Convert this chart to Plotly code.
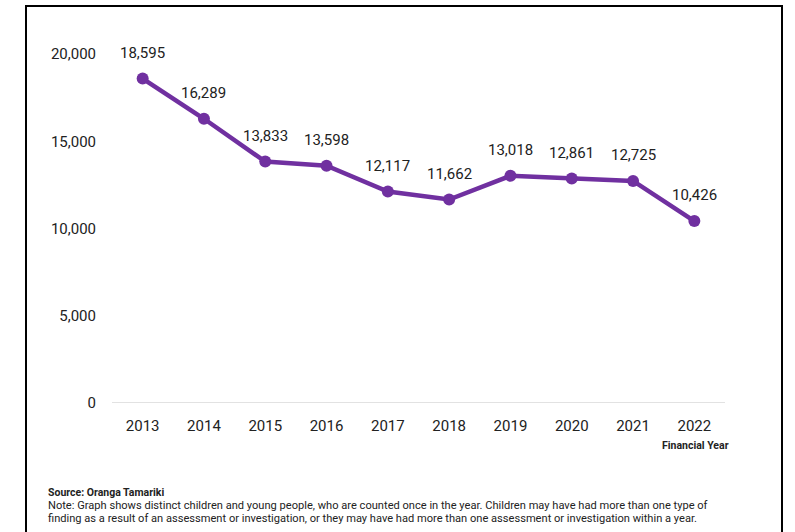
import plotly.graph_objects as go

years = ["2013", "2014", "2015", "2016", "2017", "2018", "2019", "2020", "2021", "2022"]
children = [18595, 16289, 13833, 13598, 12117, 11662, 13018, 12861, 12725, 10426]
y_ticks = [0, 5000, 10000, 15000, 20000]
y_tick_labels = ["0", "5,000", "10,000", "15,000", "20,000"]

purple = "#7030A0"
text_col = "#222222"
font_family = "Roboto, Arial, sans-serif"

fig = go.Figure()
fig.add_trace(go.Scatter(
    x=years, y=children, mode="lines+markers",
    line=dict(color=purple, width=4.5),
    marker=dict(color=purple, size=12),
    hoverinfo="skip", showlegend=False,
))

# value labels above each point (category index as x position)
for i, v in enumerate(children):
    fig.add_annotation(x=i, y=v, xref="x", yref="y", text=f"{v:,}", showarrow=False,
                       yshift=26, font=dict(family=font_family, size=15, color=text_col))

fig.update_xaxes(
    type="category", range=[-0.5, 9.5], showgrid=False, showline=False,
    zeroline=False, ticks="", ticklabelstandoff=12,
    tickfont=dict(family=font_family, size=15, color=text_col),
)
fig.update_yaxes(
    range=[0, 20000], tickvals=y_ticks, ticktext=y_tick_labels,
    showgrid=False, zeroline=False, showline=False, ticks="",
    ticklabelstandoff=15,
    tickfont=dict(family=font_family, size=15, color=text_col),
)

# baseline at zero
fig.add_shape(type="line", xref="paper", yref="y", x0=0, x1=1, y0=0, y1=0,
              line=dict(color="#d9d9d9", width=1.5), layer="below")

# outer frame
fig.add_shape(type="rect", xref="paper", yref="paper",
              x0=(26 - 112) / 613, x1=(782 - 112) / 613,
              y0=(403 - 560) / 349, y1=(403 - 6) / 349,
              line=dict(color="black", width=2), fillcolor="rgba(0,0,0,0)")

fig.add_annotation(xref="paper", yref="paper", x=1.009, y=(403 - 445) / 349,
                   xanchor="right", yanchor="middle", showarrow=False,
                   text="<b>Financial Year</b>",
                   font=dict(family=font_family, size=10.5, color=text_col))

footer_lines = [
    ("<b>Source: Oranga Tamariki</b>", 10.5),
    ("Note: Graph shows distinct children and young people, who are counted once in the year. "
     "Children may have had more than one type of", 11.1),
    ("finding as a result of an assessment or investigation, or they may have had more than "
     "one assessment or investigation within a year.", 11.1),
]
for k, (line, size) in enumerate(footer_lines):
    fig.add_annotation(xref="paper", yref="paper", x=(46 - 112) / 613,
                       y=(403 - (492 + 13 * k)) / 349,
                       xanchor="left", yanchor="middle", showarrow=False, align="left",
                       text=line, font=dict(family=font_family, size=size, color=text_col))

fig.update_layout(
    width=795, height=532,
    margin=dict(l=112, r=70, t=54, b=129),
    paper_bgcolor="white", plot_bgcolor="white",
)

fig.write_html("out.html")
